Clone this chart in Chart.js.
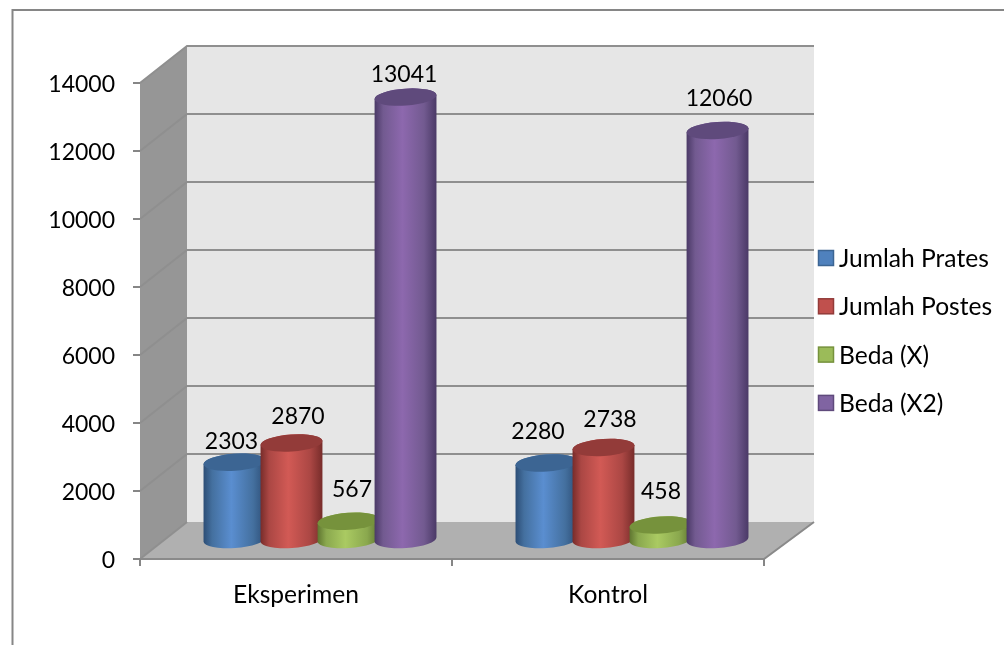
<!DOCTYPE html>
<html>
<head>
<meta charset="utf-8">
<title>Chart</title>
<style>
  html, body { margin: 0; padding: 0; background: #fff; }
  canvas { display: block; }
</style>
<script src="https://cdn.jsdelivr.net/npm/chart.js@4/dist/chart.umd.min.js"></script>
</head>
<body>
<canvas id="chart" width="1004" height="645"></canvas>
<script>
  "use strict";

  const categories = ["Eksperimen", "Kontrol"];
  const jumlahPrates = [2303, 2280];
  const jumlahPostes = [2870, 2738];
  const bedaX = [567, 458];
  const bedaX2 = [13041, 12060];
  const yTicks = [0, 2000, 4000, 6000, 8000, 10000, 12000, 14000];

  // Lato digits run wide, so numbers get a smaller size than words
  const FONT = "Lato, Carlito, sans-serif";
  const NUMBER_SIZE = 23;
  const WORD_SIZE = 24.6;
  const depthX = 48;
  const depthY = 37;

  const shades = [
    { body: "#4f81bd", light: "#5a8ed0", mid: "#44709f", edge: "#2c4d75", top: "#3c6593" },
    { body: "#c0504d", light: "#d25a55", mid: "#ab4744", edge: "#772c2a", top: "#933b39" },
    { body: "#9bbb59", light: "#aaca62", mid: "#8aa84e", edge: "#5f7530", top: "#76923c" },
    { body: "#8064a2", light: "#8d68ae", mid: "#725a90", edge: "#4a3966", top: "#5f4a7c" },
  ];

  // label nudges per series and category, the labels sit a bit off centre in the original
  const labelNudge = [
    [[-3, -21], [-8.5, -31]],
    [[6.5, -26], [6.5, -28]],
    [[3.5, -32], [0.5, -33]],
    [[-1.5, -23], [1.5, -32]],
  ];

  function drawWalls(chart) {
    const ctx = chart.ctx;
    const a = chart.chartArea;
    const yScale = chart.scales.y;

    ctx.save();
    // outer frame
    ctx.strokeStyle = "#868686";
    ctx.lineWidth = 2;
    ctx.beginPath();
    ctx.moveTo(12.5, 645);
    ctx.lineTo(12.5, 10);
    ctx.lineTo(1004, 10);
    ctx.stroke();

    // back wall
    ctx.fillStyle = "#e6e6e6";
    ctx.fillRect(a.left + depthX - 1, a.top - depthY, a.right - a.left + 3, a.bottom - a.top);

    // side wall
    ctx.fillStyle = "#969696";
    ctx.beginPath();
    ctx.moveTo(a.left, a.top);
    ctx.lineTo(a.left + depthX - 1, a.top - depthY);
    ctx.lineTo(a.left + depthX - 1, a.bottom - depthY);
    ctx.lineTo(a.left, a.bottom);
    ctx.closePath();
    ctx.fill();

    // floor
    ctx.fillStyle = "#b0b0b0";
    ctx.beginPath();
    ctx.moveTo(a.left, a.bottom);
    ctx.lineTo(a.left + depthX - 1, a.bottom - depthY);
    ctx.lineTo(a.right + depthX + 2, a.bottom - depthY);
    ctx.lineTo(a.right, a.bottom);
    ctx.closePath();
    ctx.fill();

    // gridlines follow the walls
    yTicks.forEach((v) => {
      const y = yScale.getPixelForValue(v);
      ctx.strokeStyle = "#8f8f8f";
      ctx.lineWidth = 2;
      ctx.beginPath();
      ctx.moveTo(a.left, y);
      ctx.lineTo(a.left + depthX - 1, y - depthY);
      if (v > 0) ctx.lineTo(a.right + depthX + 2, y - depthY);
      ctx.stroke();
    });

    // front and right edges of the floor
    ctx.strokeStyle = "#8a8a8a";
    ctx.lineWidth = 2;
    ctx.beginPath();
    ctx.moveTo(a.left, a.bottom);
    ctx.lineTo(a.right, a.bottom);
    ctx.lineTo(a.right + depthX + 2, a.bottom - depthY);
    ctx.stroke();
    ctx.restore();
  }

  function drawCylinder(ctx, bar, shade) {
    const cx = bar.x + depthX / 2;
    const rx = bar.width * 1.088 / 2;
    const ry = 8.5;
    const rot = -0.07;
    const topY = bar.y - depthY / 2;
    const baseY = bar.base - depthY / 2;

    const grad = ctx.createLinearGradient(cx - rx, 0, cx + rx, 0);
    grad.addColorStop(0, shade.edge);
    grad.addColorStop(0.14, shade.mid);
    grad.addColorStop(0.45, shade.light);
    grad.addColorStop(0.8, shade.mid);
    grad.addColorStop(1, shade.edge);

    ctx.beginPath();
    ctx.ellipse(cx, baseY, rx, ry, rot, 0, Math.PI);
    ctx.ellipse(cx, topY, rx, ry, rot, Math.PI, 0);
    ctx.closePath();
    ctx.fillStyle = grad;
    ctx.fill();

    ctx.beginPath();
    ctx.ellipse(cx, topY, rx, ry, rot, 0, Math.PI * 2);
    ctx.fillStyle = shade.top;
    ctx.fill();
  }

  function drawLegend(chart) {
    const ctx = chart.ctx;
    ctx.save();
    ctx.font = WORD_SIZE + "px " + FONT;
    ctx.textBaseline = "middle";
    ctx.textAlign = "left";
    chart.data.datasets.forEach((ds, i) => {
      const y = 258 + i * 48.3;
      ctx.fillStyle = shades[i].body;
      ctx.fillRect(818.5, y - 7.5, 15, 15);
      ctx.strokeStyle = shades[i].top;
      ctx.lineWidth = 1.5;
      ctx.strokeRect(818.5, y - 7.5, 15, 15);
      ctx.fillStyle = "#000";
      ctx.fillText(ds.label, 839, y + 1);
    });
    ctx.restore();
  }

  const cylinderPlugin = {
    id: "cylinders",
    beforeDraw(chart) {
      drawWalls(chart);
    },
    // the bars are redrawn as cylinders, later series on top of earlier ones
    beforeDatasetsDraw(chart) {
      const ctx = chart.ctx;
      ctx.save();
      chart.data.datasets.forEach((ds, i) => {
        chart.getDatasetMeta(i).data.forEach((bar) => {
          drawCylinder(ctx, bar.getProps(["x", "y", "base", "width"]), shades[i]);
        });
      });
      ctx.font = NUMBER_SIZE + "px " + FONT;
      ctx.fillStyle = "#000";
      ctx.textAlign = "center";
      ctx.textBaseline = "middle";
      chart.data.datasets.forEach((ds, i) => {
        chart.getDatasetMeta(i).data.forEach((bar, j) => {
          const n = labelNudge[i][j];
          ctx.fillText(String(ds.data[j]), bar.x + depthX / 2 + n[0], bar.y - depthY / 2 + n[1]);
        });
      });
      ctx.restore();
    },
    beforeDatasetDraw() {
      return false;
    },
    afterDraw(chart) {
      drawLegend(chart);
    },
  };

  function makeSeries(label, values, i) {
    return {
      label: label,
      data: values,
      backgroundColor: shades[i].body,
      categoryPercentage: 0.731,
      barPercentage: 1,
    };
  }

  new Chart(document.getElementById("chart").getContext("2d"), {
    type: "bar",
    data: {
      labels: categories,
      datasets: [
        makeSeries("Jumlah Prates", jumlahPrates, 0),
        makeSeries("Jumlah Postes", jumlahPostes, 1),
        makeSeries("Beda (X)", bedaX, 2),
        makeSeries("Beda (X2)", bedaX2, 3),
      ],
    },
    plugins: [cylinderPlugin],
    options: {
      responsive: false,
      animation: false,
      layout: { padding: { top: 83, right: 240, bottom: 0, left: 0 } },
      plugins: { legend: { display: false }, tooltip: { enabled: false } },
      scales: {
        x: {
          afterFit(scale) { scale.height = 86; },
          grid: { display: true, drawOnChartArea: false, drawTicks: true, tickLength: 7, color: "#868686", lineWidth: 2 },
          border: { display: false },
          ticks: { color: "#000", font: { family: FONT, size: WORD_SIZE }, padding: 14, maxRotation: 0 },
        },
        y: {
          min: 0,
          max: 14000,
          afterFit(scale) { scale.width = 140; },
          grid: { display: true, drawOnChartArea: false, drawTicks: true, tickLength: 7, color: "#868686", lineWidth: 2 },
          border: { display: false },
          afterBuildTicks(scale) { scale.ticks = yTicks.map((v) => ({ value: v })); },
          ticks: { color: "#000", font: { family: FONT, size: NUMBER_SIZE }, padding: 18, labelOffset: 2, callback: (v) => String(v) },
        },
      },
    },
  });
</script>
</body>
</html>
